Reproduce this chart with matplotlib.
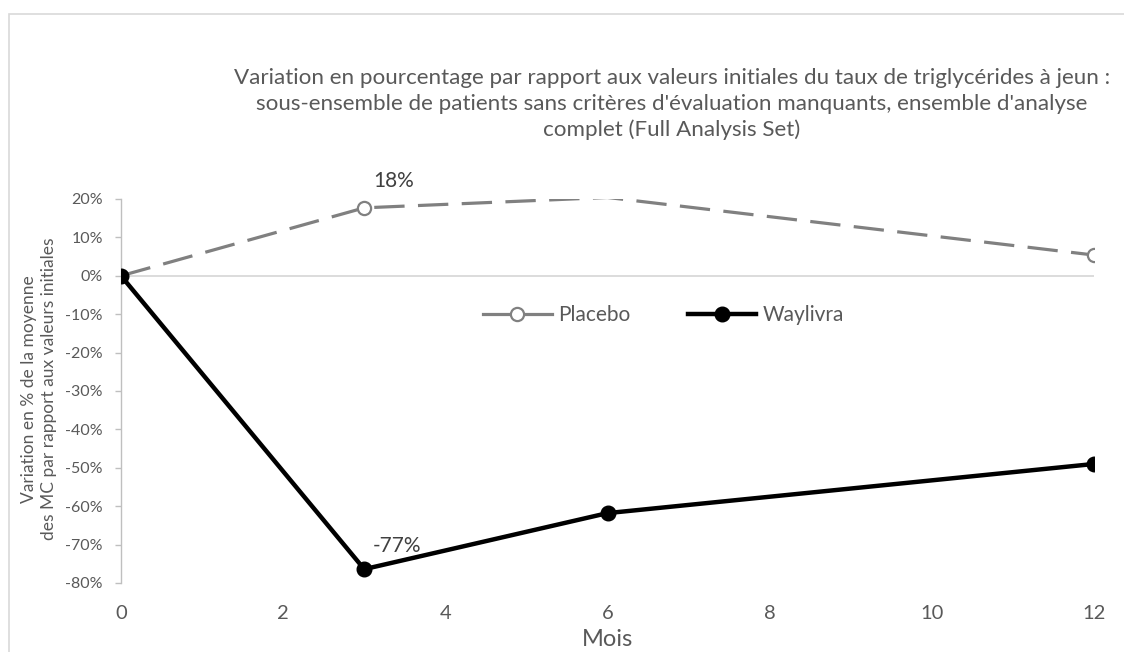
import matplotlib
matplotlib.use("Agg")
import matplotlib.pyplot as plt
from matplotlib.lines import Line2D
from matplotlib.patches import Rectangle

plt.rcParams['font.family'] = ['Lato', 'DejaVu Sans']

# ---- data ----
months = [0, 3, 6, 12]
placebo = [0.0, 17.7, 20.4, 5.4]
waylivra = [0.0, -76.4, -61.8, -49.0]
series_names = ["Placebo", "Waylivra"]
xticks = [0, 2, 4, 6, 8, 10, 12]
yticks = [20, 10, 0, -10, -20, -30, -40, -50, -60, -70, -80]
ytick_labels = [f"{v}%" for v in yticks]
labels_placebo = {3: "18%"}
labels_waylivra = {3: "-77%"}
title = ("Variation en pourcentage par rapport aux valeurs initiales du taux de triglycérides à jeun :\n"
         "sous-ensemble de patients sans critères d'évaluation manquants, ensemble d'analyse\n"
         "complet (Full Analysis Set)")
ylabel = "Variation en % de la moyenne\ndes MC par rapport aux valeurs initiales"
xlabel = "Mois"

W, H = 1124, 652
fig = plt.figure(figsize=(W / 100, H / 100), dpi=100)
fig.patch.set_facecolor("white")

# outer chart-area border
fig.patches.append(Rectangle((9 / W, -0.1), 1.2, 1 - 14 / H + 0.1, transform=fig.transFigure,
                             fill=False, edgecolor="#d9d9d9", linewidth=1.2))

L, R, T, B = 121, 1094, 199, 583
ax = fig.add_axes([L / W, 1 - B / H, (R - L) / W, (B - T) / H])
ax.set_xlim(0, 12)
ax.set_ylim(-80, 20)

for s in ["top", "right", "bottom"]:
    ax.spines[s].set_visible(False)
ax.spines["left"].set_color("#bfbfbf")
ax.spines["left"].set_linewidth(1.0)
ax.axhline(0, color="#d9d9d9", lw=1.3, zorder=1)

ax.set_xticks(xticks)
ax.set_xticklabels([str(v) for v in xticks])
ax.tick_params(axis="x", length=0, pad=16, labelsize=14.5, labelcolor="#595959")
ax.set_yticks(yticks)
ax.set_yticklabels(ytick_labels)
ax.tick_params(axis="y", length=4, width=1, color="#bfbfbf", direction="out",
               pad=9, labelsize=11.5, labelcolor="#595959")

gray = "#808080"
# placebo line
ax.plot(months, placebo, color=gray, lw=2.3, linestyle=(0, (9.5, 4.2)),
        solid_capstyle="butt", dash_capstyle="butt", zorder=3)
vis = [i for i, v in enumerate(placebo) if -80 <= v <= 20 and i > 0]
ax.plot([months[i] for i in vis], [placebo[i] for i in vis], linestyle="none",
        marker="o", markersize=9.5, markerfacecolor="white", markeredgecolor=gray,
        markeredgewidth=1.6, zorder=4)
# waylivra line
ax.plot(months, waylivra, color="black", lw=3.2, marker="o", markersize=10.5,
        markerfacecolor="black", markeredgecolor="black", zorder=5)

for x, t in labels_placebo.items():
    ax.annotate(t, (x, placebo[months.index(x)]), xytext=(6.5, 19), textcoords="offset points",
                ha="left", va="center", fontsize=15, color="#404040")
for x, t in labels_waylivra.items():
    ax.annotate(t, (x, waylivra[months.index(x)]), xytext=(6, 17), textcoords="offset points",
                ha="left", va="center", fontsize=15, color="#404040")

handles = [
    Line2D([], [], color=gray, lw=2.3, marker="o", markersize=9.5, markerfacecolor="white",
           markeredgecolor=gray, markeredgewidth=1.6),
    Line2D([], [], color="black", lw=3.2, marker="o", markersize=10.5,
           markerfacecolor="black"),
]
leg = ax.legend(handles, series_names, loc="center", bbox_to_anchor=(0.5576, 0.698),
                ncol=2, frameon=False, fontsize=15, handlelength=3.3, handletextpad=0.3,
                columnspacing=2.75)
for t in leg.get_texts():
    t.set_color("#595959")

fig.text(672 / W, 1 - 104 / H, title, ha="center", va="center", fontsize=16.1,
         color="#595959", linespacing=1.34)
fig.text(39 / W, 1 - 389 / H, ylabel, ha="center", va="center", rotation=90,
         fontsize=12.5, color="#595959", linespacing=1.25)
fig.text(607 / W, 1 - 640 / H, xlabel, ha="center", va="center", fontsize=17,
         color="#595959")

fig.savefig("out.png", dpi=100, facecolor="white")
